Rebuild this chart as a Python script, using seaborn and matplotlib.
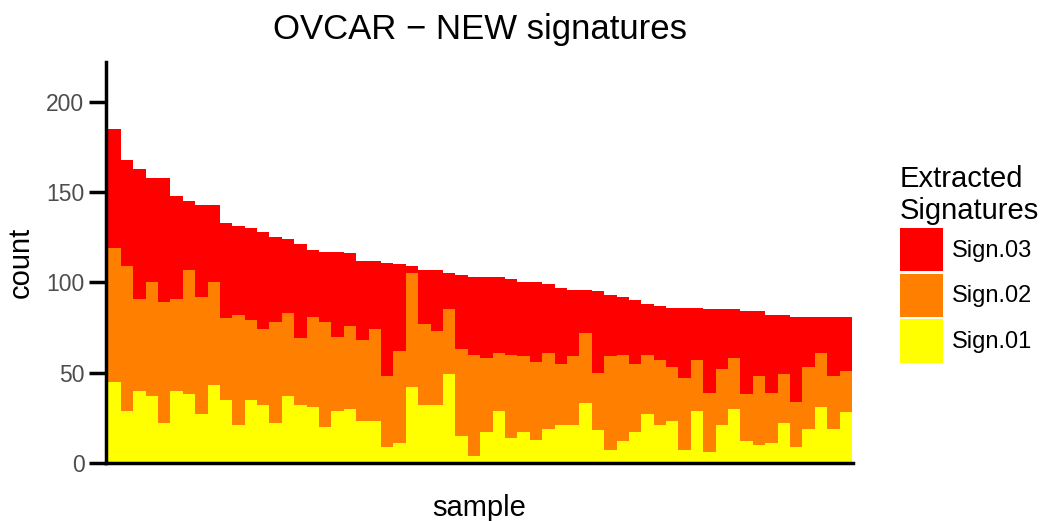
import numpy as np
import pandas as pd
import matplotlib
matplotlib.use("Agg")
import matplotlib.pyplot as plt
import seaborn as sns
from matplotlib.patches import Patch

# per-sample counts (stack: Sign.01 bottom, Sign.03 top)
sign01 = [45, 29, 40, 37, 22, 40, 38, 27, 43, 35, 21, 35, 32, 22, 37, 32, 31, 20, 29, 30,
          23, 23, 9, 11, 42, 32, 32, 49, 15, 4, 17, 29, 14, 17, 13, 19, 21, 21, 33, 18,
          7, 12, 17, 27, 21, 23, 7, 29, 6, 21, 30, 12, 10, 11, 22, 9, 19, 31, 19, 28]
sign02 = [74, 80, 51, 63, 67, 51, 69, 65, 57, 45, 61, 44, 42, 56, 46, 37, 50, 58, 41, 46,
          45, 51, 39, 51, 63, 45, 41, 36, 48, 56, 41, 32, 46, 42, 43, 42, 34, 38, 39, 32,
          52, 48, 38, 33, 36, 30, 40, 28, 33, 31, 28, 26, 38, 28, 27, 25, 34, 30, 29, 23]
sign03 = [66, 59, 72, 58, 69, 57, 38, 51, 43, 53, 49, 51, 54, 47, 41, 52, 37, 39, 47, 40,
          44, 38, 63, 48, 4, 30, 34, 20, 41, 43, 45, 42, 42, 41, 44, 38, 42, 37, 24, 45,
          34, 32, 35, 28, 30, 33, 39, 29, 46, 33, 27, 46, 36, 43, 33, 47, 28, 20, 33, 30]
samples = [f"S{i + 1:02d}" for i in range(len(sign01))]

signatures = ["Sign.03", "Sign.02", "Sign.01"]
colors = {"Sign.03": "#FF0000", "Sign.02": "#FF7F00", "Sign.01": "#FFFF00"}

df = pd.DataFrame({"sample": samples, "Sign.01": sign01, "Sign.02": sign02, "Sign.03": sign03})
df["top01"] = df["Sign.01"]
df["top02"] = df["top01"] + df["Sign.02"]
df["top03"] = df["top02"] + df["Sign.03"]

sns.set_style("white")
plt.rcParams["font.family"] = ["Liberation Sans", "DejaVu Sans"]
plt.rcParams["text.color"] = "black"
plt.rcParams["axes.labelcolor"] = "black"

fig = plt.figure(figsize=(10.42, 5.21), dpi=100)
ax = fig.add_axes([106 / 1042, 1 - 463 / 521, (853 - 106) / 1042, (463 - 62) / 521])

# overlapping bars give the stacked look
for col, sig in [("top03", "Sign.03"), ("top02", "Sign.02"), ("top01", "Sign.01")]:
    sns.barplot(data=df, x="sample", y=col, color=colors[sig], width=1.0,
                linewidth=0, saturation=1, ax=ax, errorbar=None)

ax.set_xlim(-0.69, len(samples) - 0.42)
ax.set_ylim(0, 222)
ax.set_yticks([0, 50, 100, 150, 200])
ax.set_xticks([])
ax.tick_params(axis="y", length=12, width=2.5, color="black", labelsize=16.5,
               labelcolor="#4D4D4D", pad=3.5, left=True)

for s in ["top", "right"]:
    ax.spines[s].set_visible(False)
for s in ["left", "bottom"]:
    ax.spines[s].set_color("black")
    ax.spines[s].set_linewidth(2.5)

ax.set_xlabel("sample", fontsize=21, labelpad=22, color="black")
ax.set_ylabel("count", fontsize=21, labelpad=8, color="black")
ax.set_title("OVCAR \u2212 NEW signatures", fontsize=25, pad=16.5, color="black")

handles = [Patch(facecolor=colors[s], edgecolor="none", label=s) for s in signatures]
leg = fig.legend(handles=handles, title="Extracted\nSignatures", loc="upper left",
                 bbox_to_anchor=(900 / 1042, 1 - 165 / 521), frameon=False,
                 fontsize=17, title_fontsize=21, handlelength=1.82, handleheight=2.45,
                 labelspacing=0.1, handletextpad=0.38, borderpad=0, borderaxespad=0)
leg._legend_box.align = "left"
leg.get_title().set_color("black")
for t in leg.get_texts():
    t.set_color("black")

fig.savefig("out.png", dpi=100)
